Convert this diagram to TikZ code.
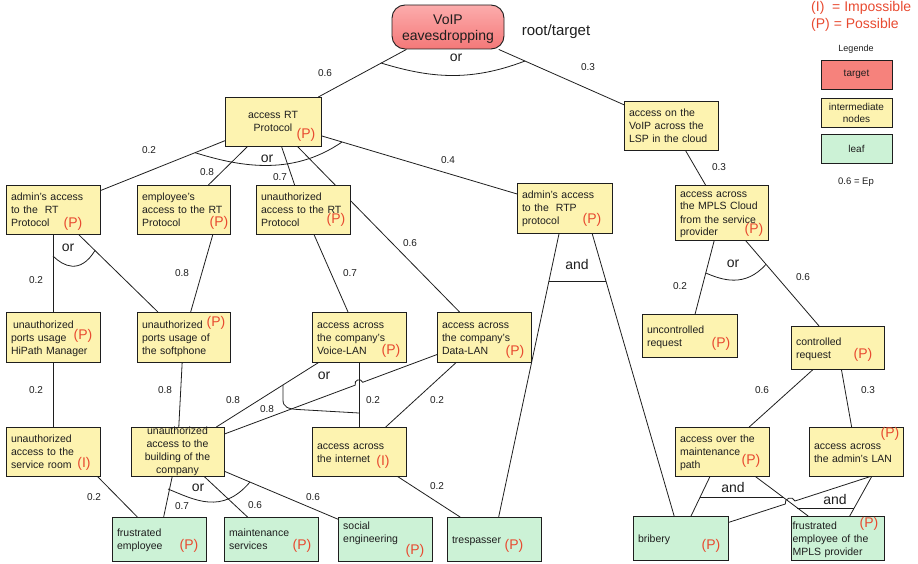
\documentclass[tikz,border=0pt]{standalone}
\usepackage{fontspec}
\setmainfont{Liberation Sans}
\usetikzlibrary{calc}
\pgfdeclarelayer{bg}
\pgfsetlayers{bg,main}
\definecolor{ybox}{RGB}{253,243,176}
\definecolor{gbox}{RGB}{204,242,214}
\definecolor{rbox}{RGB}{246,130,124}
\definecolor{rtop}{RGB}{252,172,172}
\definecolor{rbot}{RGB}{244,120,120}
\definecolor{ptxt}{RGB}{232,74,48}
\definecolor{ink}{RGB}{30,30,30}
\newcommand{\tstrut}{\rule{0pt}{10.5pt}}
\newcommand{\bstrut}{\rule[-2.5pt]{0pt}{2.5pt}}
\begin{document}
\begin{tikzpicture}[x=1pt,y=-1pt,
  conn/.style={draw=ink, line width=0.8pt},
  boxbase/.style={draw=ink, line width=0.9pt, inner ysep=0pt, inner xsep=5pt, outer sep=0pt,
    font=\fontsize{10.5}{13}\selectfont, text=ink, align=left,
    execute at begin node=\tstrut, execute at end node=\bstrut},
  ibox/.style 2 args={boxbase, fill=ybox, minimum width=#1pt, text width=#1pt-10pt, minimum height=#2pt},
  lbox/.style 2 args={boxbase, fill=gbox, minimum width=#1pt, text width=#1pt-10pt, minimum height=#2pt},
  btxt/.style={font=\fontsize{10.5}{13}\selectfont, text=ink, inner sep=0pt, align=left,
    execute at begin node=\tstrut, execute at end node=\bstrut},
  rootbox/.style={draw=ink, line width=0.9pt, rounded corners=13pt, top color=rtop, bottom color=rbot,
    minimum width=112pt, minimum height=44pt, inner sep=0pt, align=center,
    font=\fontsize{14}{15.5}\selectfont, text=ink},
  legbox/.style={draw=ink, line width=0.9pt, minimum width=71pt, minimum height=29pt, inner sep=0pt,
    align=center, font=\fontsize{10}{12}\selectfont, text=ink},
  elab/.style={font=\fontsize{10}{12}\selectfont, text=ink, inner sep=0pt},
  gate/.style={font=\fontsize{14}{16}\selectfont, text=ink, inner sep=0pt},
  plab/.style={font=\fontsize{14}{16}\selectfont, text=ptxt, inner sep=0pt}
]
\useasboundingbox (0,0) rectangle (918,564);

% ---------- nodes ----------
\node[rootbox] (root) at (448,27) {\rule{0pt}{14pt}VoIP\\eavesdropping};
\node[gate, font=\fontsize{15}{17}\selectfont] (rtlab) at (556,32) {root/target};

\node[ibox={96}{49}, align=center] (accRT) at (273,121.5) {access RT\\Protocol};
\node[ibox={94}{49}] (lsp) at (671,125.5) {access on the\\VoIP across the\\LSP in the cloud};
\node[ibox={94}{49}] (admRT) at (53,209.5) {admin's access\\to the\ \ RT\\Protocol};
\node[ibox={93}{49}] (empRT) at (183.5,209.5) {employee's\\access to the RT\\Protocol};
\node[ibox={94}{49}] (unRT) at (303,209.5) {unauthorized\\access to the RT\\Protocol};
\node[ibox={95}{50}] (adRTP) at (564.5,208) {admin's access\\to the\ \ RTP\\protocol};
\node[ibox={93}{55}] (mpls) at (721.5,212.5) {access across\\the MPLS Cloud\\from the service\\provider};
\node[ibox={94}{50}] (hip) at (53,337) {\hspace{2pt}unauthorized\\ports usage\\HiPath Manager};
\node[ibox={93}{50}] (soft) at (183.5,337) {unauthorized\\ports usage of\\the softphone};
\node[ibox={94}{50}] (vlan) at (359,337) {access across\\the company's\\Voice-LAN};
\node[ibox={94}{50}] (dlan) at (484,337) {access across\\the company's\\Data-LAN};
\node[ibox={95}{43}] (unc) at (689.5,335.5) {uncontrolled\\request};
\node[ibox={93}{43}] (ctl) at (837.5,347.5) {controlled\\request};
\node[ibox={94}{49}] (srv) at (53,451.5) {unauthorized\\access to the\\service room};
\node[ibox={93}{49}] (bld) at (177.5,451.5) {};
\node[btxt, align=center] (bldt) at (177.5,451.5) {unauthorized\\access to the\\building of the\\company};
\node[ibox={94}{49}] (inet) at (359,451.5) {access across\\the internet};
\node[ibox={94}{49}] (mpath) at (722,451.5) {access over the\\maintenance\\path};
\node[ibox={94}{49}] (alan) at (856,451.5) {access across\\the admin's LAN};

\node[lbox={94}{44}] (femp) at (159,539) {frustrated\\employee};
\node[lbox={94}{44}] (mserv) at (271,539) {maintenance\\services};
\node[lbox={94}{44}] (soc) at (385,539) {};
\node[btxt, anchor=west] (soct) at ($(soc.west)+(5,-5.5)$) {social\\engineering};
\node[lbox={94}{44}] (tresp) at (494,539) {trespasser};
\node[lbox={95}{44}] (brib) at (680.5,538) {bribery};
\node[lbox={93}{44}, inner xsep=1.5pt, text width=90pt] (fmpls) at (837.5,538) {frustrated\\employee of the\\MPLS provider};

% (P)/(I) marks
\node[plab] (pA) at (306,135) {(P)};
\node[plab] (pB) at (73,224) {(P)};
\node[plab] (pC) at (219,223) {(P)};
\node[plab] (pD) at (336,220) {(P)};
\node[plab] (pE) at (592,220) {(P)};
\node[plab] (pF) at (754,230) {(P)};
\node[plab] (pG) at (83,336) {(P)};
\node[plab] (pH) at (216,323) {(P)};
\node[plab] (pI) at (391,351) {(P)};
\node[plab] (pJ) at (515,352) {(P)};
\node[plab] (pK) at (721,344) {(P)};
\node[plab] (pL) at (863,355) {(P)};
\node[plab] (pM) at (84,464) {(I)};
\node[plab] (pN) at (383,462) {(I)};
\node[plab] (pO) at (751,461) {(P)};
\node[plab] (pP) at (890,434) {(P)};
\node[plab] (pQ) at (189,546) {(P)};
\node[plab] (pR) at (302,546) {(P)};
\node[plab] (pS) at (415,551) {(P)};
\node[plab] (pT) at (514,546) {(P)};
\node[plab] (pU) at (711,546) {(P)};
\node[plab] (pV) at (869,524) {(P)};

% legend
\node[plab, anchor=west] (lgI) at (811,8) {(I)\ \ = Impossible};
\node[plab, anchor=west] (lgP) at (811,25) {(P) = Possible};
\node[elab, font=\fontsize{9}{11}\selectfont] (lgh) at (856,49) {Legende};
\node[legbox, fill=rbox] (lgt) at (856.5,74.5) {target};
\node[legbox, fill=ybox] (lgi) at (856.5,112.5) {intermediate\\nodes};
\node[legbox, fill=gbox] (lgl) at (856.5,148.5) {leaf};
\node[elab, font=\fontsize{9.5}{11}\selectfont] (lge) at (856,182) {0.6 = Ep};

% edge labels
\node[elab] (e1) at (325,73) {0.6};
\node[elab] (e2) at (588,67) {0.3};
\node[elab] (e3) at (149,150) {0.2};
\node[elab] (e4) at (207,172) {0.8};
\node[elab] (e5) at (280,177) {0.7};
\node[elab] (e6) at (448,160) {0.4};
\node[elab] (e7) at (410,243) {0.6};
\node[elab] (e8) at (350,273) {0.7};
\node[elab] (e9) at (719,167) {0.3};
\node[elab] (e10) at (36,280) {0.2};
\node[elab] (e11) at (182,273) {0.8};
\node[elab] (e12) at (36,390) {0.2};
\node[elab] (e13) at (165,390) {0.8};
\node[elab] (e14) at (233,400) {0.8};
\node[elab] (e15) at (267,409) {0.8};
\node[elab] (e16) at (373,400) {0.2};
\node[elab] (e17) at (437,400) {0.2};
\node[elab] (e18) at (680,286) {0.2};
\node[elab] (e19) at (803,277) {0.6};
\node[elab] (e20) at (762,390) {0.6};
\node[elab] (e21) at (868,390) {0.3};
\node[elab] (e22) at (94,497) {0.2};
\node[elab] (e23) at (182,506) {0.7};
\node[elab] (e24) at (255,505) {0.6};
\node[elab] (e25) at (313,497) {0.6};
\node[elab] (e26) at (437,486) {0.2};

% gate labels
\node[gate] (g1) at (456,58) {or};
\node[gate] (g2) at (267,159) {or};
\node[gate] (g3) at (68,248) {or};
\node[gate] (g4) at (324,376) {or};
\node[gate] (g5) at (733,264) {or};
\node[gate] (g6) at (198,488) {or};
\node[gate] (g7) at (577,264) {and};
\node[gate] (g8) at (733,487) {and};
\node[gate] (g9) at (835,499) {and};

% ports and hop points
\coordinate (empport) at ($(empRT.south)+(29.5,0)$);
\coordinate (rtpport) at ($(adRTP.south)+(27.5,0)$);
\coordinate (lanport) at ($(alan.south)+(16,0)$);
\coordinate (srvport) at ($(srv.south)+(44,0)$);
\coordinate (hopA) at (362.7,382.3);
\coordinate (hopB) at (355.3,385.1);
\coordinate (hopAc) at (360.8,377.3);
\coordinate (hopBc) at (353.4,380.1);
\coordinate (hopC) at (794.9,501.0);
\coordinate (hopD) at (785.3,504.0);
\coordinate (hopCc) at (793.0,495.3);
\coordinate (hopDc) at (783.5,498.3);

% ---------- connectors ----------
\begin{pgfonlayer}{bg}
\draw[conn] (root) -- (accRT);
\draw[conn] (root) -- (lsp);
\draw[conn] (accRT) -- (admRT);
\draw[conn] (accRT) -- (empRT);
\draw[conn] (accRT) -- (unRT);
\draw[conn] (accRT) -- (adRTP);
\draw[conn] (accRT) -- (dlan);
\draw[conn] (lsp) -- (mpls);
\draw[conn] (admRT) -- (hip);
\draw[conn] (admRT) -- (soft);
\draw[conn] (empport) -- (soft);
\draw[conn] (unRT) -- (vlan);
\draw[conn] (hip) -- (srv);
\draw[conn] (soft) -- (bld);
\draw[conn] (vlan) -- (bld);
\draw[conn] (dlan) -- (hopA) .. controls (hopAc) and (hopBc) .. (hopB) -- (bld);
\draw[conn] (vlan) -- (inet);
\draw[conn] (dlan) -- (inet);
\draw[conn] (adRTP) -- (tresp);
\draw[conn] (rtpport) -- (brib);
\draw[conn] (mpls) -- (unc);
\draw[conn] (mpls) -- (ctl);
\draw[conn] (ctl) -- (mpath);
\draw[conn] (ctl) -- (alan);
\draw[conn] (mpath) -- (brib);
\draw[conn] (mpath) -- (fmpls);
\draw[conn] (lanport) -- (fmpls);
\draw[conn] (lanport) -- (hopC) .. controls (hopCc) and (hopDc) .. (hopD) -- (brib);
\draw[conn] (srvport) -- (femp);
\draw[conn] (bld) -- (femp);
\draw[conn] (bld) -- (mserv);
\draw[conn] (bld) -- (soc);
\draw[conn] (inet) -- (tresp);
% gate arcs
\draw[conn] (381,63) .. controls (430,78) and (470,82) .. (525,61);
\draw[conn] (195,152.7) .. controls (235,165) and (290,178) .. (342,142);
\draw[conn] (53,256) .. controls (63,266) and (80,275) .. (95,250.5);
\draw[conn] (705.8,273) .. controls (722,280) and (745,288) .. (766,264.3);
\draw[conn] (168,489) .. controls (195,500) and (222,515) .. (250,482);
\draw[conn] (283,385) -- (283,400) .. controls (283,407) and (288,409) .. (298,409.5) -- (359,413);
\draw[conn] (549,281) -- (605.9,281);
\draw[conn] (700.2,497) -- (782.8,497);
\draw[conn] (797.4,508) -- (854.2,508);
\end{pgfonlayer}
\end{tikzpicture}
\end{document}
